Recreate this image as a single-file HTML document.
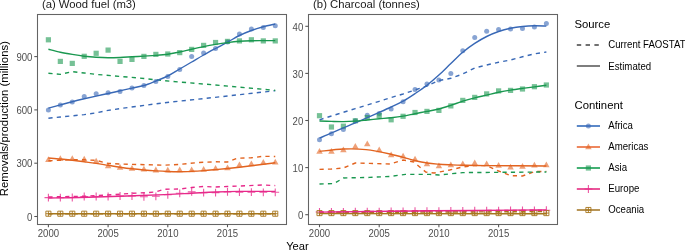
<!DOCTYPE html>
<html><head><meta charset="utf-8"><style>
html,body{margin:0;padding:0;background:#fff;}
svg{display:block;font-family:"Liberation Sans", sans-serif;will-change:transform;}
text{stroke-width:0px;}
</style></head><body>
<svg width="685" height="250" viewBox="0 0 685 250">
<rect width="685" height="250" fill="#fff"/>
<g><circle cx="48.40" cy="110.00" r="2.5" fill="#3868b6" fill-opacity="0.6"/>
<circle cx="60.34" cy="105.10" r="2.5" fill="#3868b6" fill-opacity="0.6"/>
<circle cx="72.28" cy="101.90" r="2.5" fill="#3868b6" fill-opacity="0.6"/>
<circle cx="84.22" cy="96.50" r="2.5" fill="#3868b6" fill-opacity="0.6"/>
<circle cx="96.16" cy="93.70" r="2.5" fill="#3868b6" fill-opacity="0.6"/>
<circle cx="108.10" cy="92.70" r="2.5" fill="#3868b6" fill-opacity="0.6"/>
<circle cx="120.04" cy="91.40" r="2.5" fill="#3868b6" fill-opacity="0.6"/>
<circle cx="131.98" cy="88.00" r="2.5" fill="#3868b6" fill-opacity="0.6"/>
<circle cx="143.92" cy="85.40" r="2.5" fill="#3868b6" fill-opacity="0.6"/>
<circle cx="155.86" cy="81.60" r="2.5" fill="#3868b6" fill-opacity="0.6"/>
<circle cx="167.80" cy="76.40" r="2.5" fill="#3868b6" fill-opacity="0.6"/>
<circle cx="179.74" cy="69.60" r="2.5" fill="#3868b6" fill-opacity="0.6"/>
<circle cx="191.68" cy="56.50" r="2.5" fill="#3868b6" fill-opacity="0.6"/>
<circle cx="203.62" cy="53.00" r="2.5" fill="#3868b6" fill-opacity="0.6"/>
<circle cx="215.56" cy="48.60" r="2.5" fill="#3868b6" fill-opacity="0.6"/>
<circle cx="227.50" cy="41.90" r="2.5" fill="#3868b6" fill-opacity="0.6"/>
<circle cx="239.44" cy="33.90" r="2.5" fill="#3868b6" fill-opacity="0.6"/>
<circle cx="251.38" cy="29.00" r="2.5" fill="#3868b6" fill-opacity="0.6"/>
<circle cx="263.32" cy="27.50" r="2.5" fill="#3868b6" fill-opacity="0.6"/>
<circle cx="275.26" cy="25.70" r="2.5" fill="#3868b6" fill-opacity="0.6"/>
<path d="M48.40,156.30L51.65,162.10L45.15,162.10Z" fill="#e2631f" fill-opacity="0.6"/>
<path d="M60.34,155.20L63.59,161.00L57.09,161.00Z" fill="#e2631f" fill-opacity="0.6"/>
<path d="M72.28,155.20L75.53,161.00L69.03,161.00Z" fill="#e2631f" fill-opacity="0.6"/>
<path d="M84.22,155.70L87.47,161.50L80.97,161.50Z" fill="#e2631f" fill-opacity="0.6"/>
<path d="M96.16,157.80L99.41,163.60L92.91,163.60Z" fill="#e2631f" fill-opacity="0.6"/>
<path d="M108.10,162.40L111.35,168.20L104.85,168.20Z" fill="#e2631f" fill-opacity="0.6"/>
<path d="M120.04,164.00L123.29,169.80L116.79,169.80Z" fill="#e2631f" fill-opacity="0.6"/>
<path d="M131.98,165.00L135.23,170.80L128.73,170.80Z" fill="#e2631f" fill-opacity="0.6"/>
<path d="M143.92,165.80L147.17,171.60L140.67,171.60Z" fill="#e2631f" fill-opacity="0.6"/>
<path d="M155.86,166.60L159.11,172.40L152.61,172.40Z" fill="#e2631f" fill-opacity="0.6"/>
<path d="M167.80,166.80L171.05,172.60L164.55,172.60Z" fill="#e2631f" fill-opacity="0.6"/>
<path d="M179.74,166.40L182.99,172.20L176.49,172.20Z" fill="#e2631f" fill-opacity="0.6"/>
<path d="M191.68,166.40L194.93,172.20L188.43,172.20Z" fill="#e2631f" fill-opacity="0.6"/>
<path d="M203.62,166.00L206.87,171.80L200.37,171.80Z" fill="#e2631f" fill-opacity="0.6"/>
<path d="M215.56,165.00L218.81,170.80L212.31,170.80Z" fill="#e2631f" fill-opacity="0.6"/>
<path d="M227.50,164.40L230.75,170.20L224.25,170.20Z" fill="#e2631f" fill-opacity="0.6"/>
<path d="M239.44,161.40L242.69,167.20L236.19,167.20Z" fill="#e2631f" fill-opacity="0.6"/>
<path d="M251.38,160.40L254.63,166.20L248.13,166.20Z" fill="#e2631f" fill-opacity="0.6"/>
<path d="M263.32,159.00L266.57,164.80L260.07,164.80Z" fill="#e2631f" fill-opacity="0.6"/>
<path d="M275.26,158.80L278.51,164.60L272.01,164.60Z" fill="#e2631f" fill-opacity="0.6"/>
<rect x="45.80" y="37.20" width="5.20" height="5.20" fill="#1a9850" fill-opacity="0.6"/>
<rect x="57.74" y="58.80" width="5.20" height="5.20" fill="#1a9850" fill-opacity="0.6"/>
<rect x="69.68" y="60.80" width="5.20" height="5.20" fill="#1a9850" fill-opacity="0.6"/>
<rect x="81.62" y="53.70" width="5.20" height="5.20" fill="#1a9850" fill-opacity="0.6"/>
<rect x="93.56" y="50.70" width="5.20" height="5.20" fill="#1a9850" fill-opacity="0.6"/>
<rect x="105.50" y="47.50" width="5.20" height="5.20" fill="#1a9850" fill-opacity="0.6"/>
<rect x="117.44" y="58.80" width="5.20" height="5.20" fill="#1a9850" fill-opacity="0.6"/>
<rect x="129.38" y="56.80" width="5.20" height="5.20" fill="#1a9850" fill-opacity="0.6"/>
<rect x="141.32" y="53.80" width="5.20" height="5.20" fill="#1a9850" fill-opacity="0.6"/>
<rect x="153.26" y="51.80" width="5.20" height="5.20" fill="#1a9850" fill-opacity="0.6"/>
<rect x="165.20" y="51.40" width="5.20" height="5.20" fill="#1a9850" fill-opacity="0.6"/>
<rect x="177.14" y="50.00" width="5.20" height="5.20" fill="#1a9850" fill-opacity="0.6"/>
<rect x="189.08" y="46.80" width="5.20" height="5.20" fill="#1a9850" fill-opacity="0.6"/>
<rect x="201.02" y="42.80" width="5.20" height="5.20" fill="#1a9850" fill-opacity="0.6"/>
<rect x="212.96" y="39.90" width="5.20" height="5.20" fill="#1a9850" fill-opacity="0.6"/>
<rect x="224.90" y="38.80" width="5.20" height="5.20" fill="#1a9850" fill-opacity="0.6"/>
<rect x="236.84" y="38.30" width="5.20" height="5.20" fill="#1a9850" fill-opacity="0.6"/>
<rect x="248.78" y="37.20" width="5.20" height="5.20" fill="#1a9850" fill-opacity="0.6"/>
<rect x="260.72" y="38.30" width="5.20" height="5.20" fill="#1a9850" fill-opacity="0.6"/>
<rect x="272.66" y="38.30" width="5.20" height="5.20" fill="#1a9850" fill-opacity="0.6"/>
<path d="M44.50,197.60H52.30M48.40,193.70V201.50" stroke="#e7298a" stroke-opacity="0.78" stroke-width="1.1" fill="none"/>
<path d="M56.44,197.60H64.24M60.34,193.70V201.50" stroke="#e7298a" stroke-opacity="0.78" stroke-width="1.1" fill="none"/>
<path d="M68.38,197.50H76.18M72.28,193.60V201.40" stroke="#e7298a" stroke-opacity="0.78" stroke-width="1.1" fill="none"/>
<path d="M80.32,196.50H88.12M84.22,192.60V200.40" stroke="#e7298a" stroke-opacity="0.78" stroke-width="1.1" fill="none"/>
<path d="M92.26,196.50H100.06M96.16,192.60V200.40" stroke="#e7298a" stroke-opacity="0.78" stroke-width="1.1" fill="none"/>
<path d="M104.20,196.50H112.00M108.10,192.60V200.40" stroke="#e7298a" stroke-opacity="0.78" stroke-width="1.1" fill="none"/>
<path d="M116.14,196.00H123.94M120.04,192.10V199.90" stroke="#e7298a" stroke-opacity="0.78" stroke-width="1.1" fill="none"/>
<path d="M128.08,196.00H135.88M131.98,192.10V199.90" stroke="#e7298a" stroke-opacity="0.78" stroke-width="1.1" fill="none"/>
<path d="M140.02,196.80H147.82M143.92,192.90V200.70" stroke="#e7298a" stroke-opacity="0.78" stroke-width="1.1" fill="none"/>
<path d="M151.96,196.30H159.76M155.86,192.40V200.20" stroke="#e7298a" stroke-opacity="0.78" stroke-width="1.1" fill="none"/>
<path d="M163.90,194.80H171.70M167.80,190.90V198.70" stroke="#e7298a" stroke-opacity="0.78" stroke-width="1.1" fill="none"/>
<path d="M175.84,193.30H183.64M179.74,189.40V197.20" stroke="#e7298a" stroke-opacity="0.78" stroke-width="1.1" fill="none"/>
<path d="M187.78,191.90H195.58M191.68,188.00V195.80" stroke="#e7298a" stroke-opacity="0.78" stroke-width="1.1" fill="none"/>
<path d="M199.72,192.60H207.52M203.62,188.70V196.50" stroke="#e7298a" stroke-opacity="0.78" stroke-width="1.1" fill="none"/>
<path d="M211.66,192.60H219.46M215.56,188.70V196.50" stroke="#e7298a" stroke-opacity="0.78" stroke-width="1.1" fill="none"/>
<path d="M223.60,191.90H231.40M227.50,188.00V195.80" stroke="#e7298a" stroke-opacity="0.78" stroke-width="1.1" fill="none"/>
<path d="M235.54,192.20H243.34M239.44,188.30V196.10" stroke="#e7298a" stroke-opacity="0.78" stroke-width="1.1" fill="none"/>
<path d="M247.48,192.20H255.28M251.38,188.30V196.10" stroke="#e7298a" stroke-opacity="0.78" stroke-width="1.1" fill="none"/>
<path d="M259.42,192.30H267.22M263.32,188.40V196.20" stroke="#e7298a" stroke-opacity="0.78" stroke-width="1.1" fill="none"/>
<path d="M271.36,192.30H279.16M275.26,188.40V196.20" stroke="#e7298a" stroke-opacity="0.78" stroke-width="1.1" fill="none"/>
<path d="M45.85,211.15h5.10v5.10h-5.10ZM45.85,213.70H50.95M48.40,211.15V216.25" stroke="#a6761d" stroke-opacity="0.8999999999999999" stroke-width="1.0" fill="none"/>
<path d="M57.79,211.15h5.10v5.10h-5.10ZM57.79,213.70H62.89M60.34,211.15V216.25" stroke="#a6761d" stroke-opacity="0.8999999999999999" stroke-width="1.0" fill="none"/>
<path d="M69.73,211.15h5.10v5.10h-5.10ZM69.73,213.70H74.83M72.28,211.15V216.25" stroke="#a6761d" stroke-opacity="0.8999999999999999" stroke-width="1.0" fill="none"/>
<path d="M81.67,211.15h5.10v5.10h-5.10ZM81.67,213.70H86.77M84.22,211.15V216.25" stroke="#a6761d" stroke-opacity="0.8999999999999999" stroke-width="1.0" fill="none"/>
<path d="M93.61,211.15h5.10v5.10h-5.10ZM93.61,213.70H98.71M96.16,211.15V216.25" stroke="#a6761d" stroke-opacity="0.8999999999999999" stroke-width="1.0" fill="none"/>
<path d="M105.55,211.15h5.10v5.10h-5.10ZM105.55,213.70H110.65M108.10,211.15V216.25" stroke="#a6761d" stroke-opacity="0.8999999999999999" stroke-width="1.0" fill="none"/>
<path d="M117.49,211.15h5.10v5.10h-5.10ZM117.49,213.70H122.59M120.04,211.15V216.25" stroke="#a6761d" stroke-opacity="0.8999999999999999" stroke-width="1.0" fill="none"/>
<path d="M129.43,211.15h5.10v5.10h-5.10ZM129.43,213.70H134.53M131.98,211.15V216.25" stroke="#a6761d" stroke-opacity="0.8999999999999999" stroke-width="1.0" fill="none"/>
<path d="M141.37,211.15h5.10v5.10h-5.10ZM141.37,213.70H146.47M143.92,211.15V216.25" stroke="#a6761d" stroke-opacity="0.8999999999999999" stroke-width="1.0" fill="none"/>
<path d="M153.31,211.15h5.10v5.10h-5.10ZM153.31,213.70H158.41M155.86,211.15V216.25" stroke="#a6761d" stroke-opacity="0.8999999999999999" stroke-width="1.0" fill="none"/>
<path d="M165.25,211.15h5.10v5.10h-5.10ZM165.25,213.70H170.35M167.80,211.15V216.25" stroke="#a6761d" stroke-opacity="0.8999999999999999" stroke-width="1.0" fill="none"/>
<path d="M177.19,211.15h5.10v5.10h-5.10ZM177.19,213.70H182.29M179.74,211.15V216.25" stroke="#a6761d" stroke-opacity="0.8999999999999999" stroke-width="1.0" fill="none"/>
<path d="M189.13,211.15h5.10v5.10h-5.10ZM189.13,213.70H194.23M191.68,211.15V216.25" stroke="#a6761d" stroke-opacity="0.8999999999999999" stroke-width="1.0" fill="none"/>
<path d="M201.07,211.15h5.10v5.10h-5.10ZM201.07,213.70H206.17M203.62,211.15V216.25" stroke="#a6761d" stroke-opacity="0.8999999999999999" stroke-width="1.0" fill="none"/>
<path d="M213.01,211.15h5.10v5.10h-5.10ZM213.01,213.70H218.11M215.56,211.15V216.25" stroke="#a6761d" stroke-opacity="0.8999999999999999" stroke-width="1.0" fill="none"/>
<path d="M224.95,211.15h5.10v5.10h-5.10ZM224.95,213.70H230.05M227.50,211.15V216.25" stroke="#a6761d" stroke-opacity="0.8999999999999999" stroke-width="1.0" fill="none"/>
<path d="M236.89,211.15h5.10v5.10h-5.10ZM236.89,213.70H241.99M239.44,211.15V216.25" stroke="#a6761d" stroke-opacity="0.8999999999999999" stroke-width="1.0" fill="none"/>
<path d="M248.83,211.15h5.10v5.10h-5.10ZM248.83,213.70H253.93M251.38,211.15V216.25" stroke="#a6761d" stroke-opacity="0.8999999999999999" stroke-width="1.0" fill="none"/>
<path d="M260.77,211.15h5.10v5.10h-5.10ZM260.77,213.70H265.87M263.32,211.15V216.25" stroke="#a6761d" stroke-opacity="0.8999999999999999" stroke-width="1.0" fill="none"/>
<path d="M272.71,211.15h5.10v5.10h-5.10ZM272.71,213.70H277.81M275.26,211.15V216.25" stroke="#a6761d" stroke-opacity="0.8999999999999999" stroke-width="1.0" fill="none"/>
<polyline points="48.40,118.20 60.34,117.00 72.28,115.80 84.22,114.60 96.16,112.80 108.10,110.40 120.04,108.60 163.02,102.90 220.34,96.80 275.26,90.70" fill="none" stroke="#3868b6" stroke-width="1.4" stroke-dasharray="4.2 4.2"/>
<polyline points="48.40,160.80 60.34,160.20 72.28,159.80 84.22,159.80 96.16,160.40 108.10,163.40 120.04,164.00 163.02,165.20 179.74,164.40 198.84,162.50 215.56,161.80 227.50,162.00 237.05,158.20 251.38,157.80 263.32,156.30 275.26,156.50" fill="none" stroke="#e2631f" stroke-width="1.4" stroke-dasharray="4.2 4.2"/>
<polyline points="48.40,73.20 60.34,74.40 72.28,71.60 84.22,73.00 96.16,74.40 120.04,76.40 143.92,78.50 163.02,80.60 222.72,85.60 275.26,90.40" fill="none" stroke="#1a9850" stroke-width="1.4" stroke-dasharray="4.2 4.2"/>
<polyline points="48.40,197.00 84.22,196.20 108.10,195.00 120.04,194.20 131.98,193.30 147.50,192.60 155.86,191.90 164.22,189.20 179.74,189.00 191.68,187.50 203.62,186.50 215.56,187.00 227.50,186.50 239.44,186.00 263.32,185.00 275.26,185.60" fill="none" stroke="#e7298a" stroke-width="1.4" stroke-dasharray="4.2 4.2"/>
<polyline points="48.40,213.70 275.26,213.70" fill="none" stroke="#a6761d" stroke-width="1.4" stroke-dasharray="4.2 4.2"/>
<path d="M48.40,108.20 C50.39,107.65 56.36,105.98 60.34,104.90 C64.32,103.82 68.30,102.72 72.28,101.70 C76.26,100.68 80.24,99.73 84.22,98.80 C88.20,97.87 92.18,96.98 96.16,96.10 C100.14,95.22 104.12,94.38 108.10,93.50 C112.08,92.62 116.06,91.70 120.04,90.80 C124.02,89.90 128.00,88.98 131.98,88.10 C135.96,87.22 139.94,86.68 143.92,85.50 C147.90,84.32 151.88,82.58 155.86,81.00 C159.84,79.42 163.82,78.00 167.80,76.00 C171.78,74.00 175.76,71.33 179.74,69.00 C183.72,66.67 187.70,64.33 191.68,62.00 C195.66,59.67 199.64,57.25 203.62,55.00 C207.60,52.75 211.58,50.63 215.56,48.50 C219.54,46.37 223.52,44.37 227.50,42.20 C231.48,40.03 235.46,37.45 239.44,35.50 C243.42,33.55 247.40,31.95 251.38,30.50 C255.36,29.05 259.34,27.88 263.32,26.80 C267.30,25.72 273.27,24.47 275.26,24.00" fill="none" stroke="#3868b6" stroke-width="1.4"/>
<path d="M48.40,158.00 C50.39,158.17 56.36,158.62 60.34,159.00 C64.32,159.38 68.30,159.83 72.28,160.30 C76.26,160.77 80.24,161.28 84.22,161.80 C88.20,162.32 92.18,162.82 96.16,163.40 C100.14,163.98 104.12,164.67 108.10,165.30 C112.08,165.93 116.06,166.62 120.04,167.20 C124.02,167.78 128.00,168.33 131.98,168.80 C135.96,169.27 139.94,169.65 143.92,170.00 C147.90,170.35 151.88,170.65 155.86,170.90 C159.84,171.15 163.82,171.37 167.80,171.50 C171.78,171.63 175.76,171.73 179.74,171.70 C183.72,171.67 187.70,171.48 191.68,171.30 C195.66,171.12 199.64,170.88 203.62,170.60 C207.60,170.32 211.58,169.95 215.56,169.60 C219.54,169.25 223.52,168.90 227.50,168.50 C231.48,168.10 235.46,167.65 239.44,167.20 C243.42,166.75 247.40,166.28 251.38,165.80 C255.36,165.32 259.34,164.80 263.32,164.30 C267.30,163.80 273.27,163.05 275.26,162.80" fill="none" stroke="#e2631f" stroke-width="1.4"/>
<path d="M48.40,49.30 C50.39,49.78 56.36,51.35 60.34,52.20 C64.32,53.05 68.30,53.73 72.28,54.40 C76.26,55.07 80.24,55.72 84.22,56.20 C88.20,56.68 92.18,57.03 96.16,57.30 C100.14,57.57 104.12,57.77 108.10,57.80 C112.08,57.83 116.06,57.67 120.04,57.50 C124.02,57.33 128.00,57.03 131.98,56.80 C135.96,56.57 139.94,56.33 143.92,56.10 C147.90,55.87 151.88,55.72 155.86,55.40 C159.84,55.08 163.82,54.77 167.80,54.20 C171.78,53.63 175.76,52.83 179.74,52.00 C183.72,51.17 187.70,50.10 191.68,49.20 C195.66,48.30 199.64,47.40 203.62,46.60 C207.60,45.80 211.58,45.07 215.56,44.40 C219.54,43.73 223.52,43.12 227.50,42.60 C231.48,42.08 235.46,41.62 239.44,41.30 C243.42,40.98 247.40,40.82 251.38,40.70 C255.36,40.58 259.34,40.62 263.32,40.60 C267.30,40.58 273.27,40.60 275.26,40.60" fill="none" stroke="#1a9850" stroke-width="1.4"/>
<path d="M48.40,198.00 C56.36,197.83 76.86,197.57 96.16,197.00 C115.46,196.43 148.30,195.23 164.22,194.60 C180.14,193.97 183.12,193.63 191.68,193.20 C200.24,192.77 207.60,192.30 215.56,192.00 C223.52,191.70 229.49,191.50 239.44,191.40 C249.39,191.30 269.29,191.40 275.26,191.40" fill="none" stroke="#e7298a" stroke-width="1.4"/>
<path d="M48.40,213.70 L275.26,213.70" fill="none" stroke="#a6761d" stroke-width="1.4"/></g>
<g><circle cx="319.50" cy="139.70" r="2.5" fill="#3868b6" fill-opacity="0.6"/>
<circle cx="331.44" cy="133.70" r="2.5" fill="#3868b6" fill-opacity="0.6"/>
<circle cx="343.38" cy="129.40" r="2.5" fill="#3868b6" fill-opacity="0.6"/>
<circle cx="355.32" cy="120.80" r="2.5" fill="#3868b6" fill-opacity="0.6"/>
<circle cx="367.26" cy="115.30" r="2.5" fill="#3868b6" fill-opacity="0.6"/>
<circle cx="379.20" cy="113.50" r="2.5" fill="#3868b6" fill-opacity="0.6"/>
<circle cx="391.14" cy="109.00" r="2.5" fill="#3868b6" fill-opacity="0.6"/>
<circle cx="403.08" cy="101.70" r="2.5" fill="#3868b6" fill-opacity="0.6"/>
<circle cx="415.02" cy="89.60" r="2.5" fill="#3868b6" fill-opacity="0.6"/>
<circle cx="426.96" cy="84.00" r="2.5" fill="#3868b6" fill-opacity="0.6"/>
<circle cx="438.90" cy="80.00" r="2.5" fill="#3868b6" fill-opacity="0.6"/>
<circle cx="450.84" cy="73.60" r="2.5" fill="#3868b6" fill-opacity="0.6"/>
<circle cx="462.78" cy="50.80" r="2.5" fill="#3868b6" fill-opacity="0.6"/>
<circle cx="474.72" cy="37.40" r="2.5" fill="#3868b6" fill-opacity="0.6"/>
<circle cx="486.66" cy="31.20" r="2.5" fill="#3868b6" fill-opacity="0.6"/>
<circle cx="498.60" cy="29.50" r="2.5" fill="#3868b6" fill-opacity="0.6"/>
<circle cx="510.54" cy="29.00" r="2.5" fill="#3868b6" fill-opacity="0.6"/>
<circle cx="522.48" cy="28.40" r="2.5" fill="#3868b6" fill-opacity="0.6"/>
<circle cx="534.42" cy="27.00" r="2.5" fill="#3868b6" fill-opacity="0.6"/>
<circle cx="546.36" cy="23.40" r="2.5" fill="#3868b6" fill-opacity="0.6"/>
<path d="M319.50,148.00L322.75,153.80L316.25,153.80Z" fill="#e2631f" fill-opacity="0.6"/>
<path d="M331.44,148.00L334.69,153.80L328.19,153.80Z" fill="#e2631f" fill-opacity="0.6"/>
<path d="M343.38,146.40L346.63,152.20L340.13,152.20Z" fill="#e2631f" fill-opacity="0.6"/>
<path d="M355.32,143.00L358.57,148.80L352.07,148.80Z" fill="#e2631f" fill-opacity="0.6"/>
<path d="M367.26,140.40L370.51,146.20L364.01,146.20Z" fill="#e2631f" fill-opacity="0.6"/>
<path d="M379.20,146.40L382.45,152.20L375.95,152.20Z" fill="#e2631f" fill-opacity="0.6"/>
<path d="M391.14,151.40L394.39,157.20L387.89,157.20Z" fill="#e2631f" fill-opacity="0.6"/>
<path d="M403.08,152.80L406.33,158.60L399.83,158.60Z" fill="#e2631f" fill-opacity="0.6"/>
<path d="M415.02,155.80L418.27,161.60L411.77,161.60Z" fill="#e2631f" fill-opacity="0.6"/>
<path d="M426.96,160.40L430.21,166.20L423.71,166.20Z" fill="#e2631f" fill-opacity="0.6"/>
<path d="M438.90,162.40L442.15,168.20L435.65,168.20Z" fill="#e2631f" fill-opacity="0.6"/>
<path d="M450.84,161.40L454.09,167.20L447.59,167.20Z" fill="#e2631f" fill-opacity="0.6"/>
<path d="M462.78,160.40L466.03,166.20L459.53,166.20Z" fill="#e2631f" fill-opacity="0.6"/>
<path d="M474.72,159.40L477.97,165.20L471.47,165.20Z" fill="#e2631f" fill-opacity="0.6"/>
<path d="M486.66,160.40L489.91,166.20L483.41,166.20Z" fill="#e2631f" fill-opacity="0.6"/>
<path d="M498.60,162.00L501.85,167.80L495.35,167.80Z" fill="#e2631f" fill-opacity="0.6"/>
<path d="M510.54,163.80L513.79,169.60L507.29,169.60Z" fill="#e2631f" fill-opacity="0.6"/>
<path d="M522.48,163.00L525.73,168.80L519.23,168.80Z" fill="#e2631f" fill-opacity="0.6"/>
<path d="M534.42,161.80L537.67,167.60L531.17,167.60Z" fill="#e2631f" fill-opacity="0.6"/>
<path d="M546.36,161.40L549.61,167.20L543.11,167.20Z" fill="#e2631f" fill-opacity="0.6"/>
<rect x="316.90" y="113.10" width="5.20" height="5.20" fill="#1a9850" fill-opacity="0.6"/>
<rect x="328.84" y="124.40" width="5.20" height="5.20" fill="#1a9850" fill-opacity="0.6"/>
<rect x="340.78" y="123.60" width="5.20" height="5.20" fill="#1a9850" fill-opacity="0.6"/>
<rect x="352.72" y="118.20" width="5.20" height="5.20" fill="#1a9850" fill-opacity="0.6"/>
<rect x="364.66" y="115.00" width="5.20" height="5.20" fill="#1a9850" fill-opacity="0.6"/>
<rect x="376.60" y="112.90" width="5.20" height="5.20" fill="#1a9850" fill-opacity="0.6"/>
<rect x="388.54" y="117.20" width="5.20" height="5.20" fill="#1a9850" fill-opacity="0.6"/>
<rect x="400.48" y="113.70" width="5.20" height="5.20" fill="#1a9850" fill-opacity="0.6"/>
<rect x="412.42" y="109.90" width="5.20" height="5.20" fill="#1a9850" fill-opacity="0.6"/>
<rect x="424.36" y="108.80" width="5.20" height="5.20" fill="#1a9850" fill-opacity="0.6"/>
<rect x="436.30" y="107.80" width="5.20" height="5.20" fill="#1a9850" fill-opacity="0.6"/>
<rect x="448.24" y="103.30" width="5.20" height="5.20" fill="#1a9850" fill-opacity="0.6"/>
<rect x="460.18" y="97.80" width="5.20" height="5.20" fill="#1a9850" fill-opacity="0.6"/>
<rect x="472.12" y="94.80" width="5.20" height="5.20" fill="#1a9850" fill-opacity="0.6"/>
<rect x="484.06" y="91.30" width="5.20" height="5.20" fill="#1a9850" fill-opacity="0.6"/>
<rect x="496.00" y="88.30" width="5.20" height="5.20" fill="#1a9850" fill-opacity="0.6"/>
<rect x="507.94" y="87.80" width="5.20" height="5.20" fill="#1a9850" fill-opacity="0.6"/>
<rect x="519.88" y="86.40" width="5.20" height="5.20" fill="#1a9850" fill-opacity="0.6"/>
<rect x="531.82" y="84.10" width="5.20" height="5.20" fill="#1a9850" fill-opacity="0.6"/>
<rect x="543.76" y="82.40" width="5.20" height="5.20" fill="#1a9850" fill-opacity="0.6"/>
<path d="M315.60,212.00H323.40M319.50,208.10V215.90" stroke="#e7298a" stroke-opacity="0.78" stroke-width="1.1" fill="none"/>
<path d="M327.54,211.91H335.34M331.44,208.01V215.81" stroke="#e7298a" stroke-opacity="0.78" stroke-width="1.1" fill="none"/>
<path d="M339.48,211.81H347.28M343.38,207.91V215.71" stroke="#e7298a" stroke-opacity="0.78" stroke-width="1.1" fill="none"/>
<path d="M351.42,211.72H359.22M355.32,207.82V215.62" stroke="#e7298a" stroke-opacity="0.78" stroke-width="1.1" fill="none"/>
<path d="M363.36,211.62H371.16M367.26,207.72V215.52" stroke="#e7298a" stroke-opacity="0.78" stroke-width="1.1" fill="none"/>
<path d="M375.30,211.53H383.10M379.20,207.63V215.43" stroke="#e7298a" stroke-opacity="0.78" stroke-width="1.1" fill="none"/>
<path d="M387.24,211.43H395.04M391.14,207.53V215.33" stroke="#e7298a" stroke-opacity="0.78" stroke-width="1.1" fill="none"/>
<path d="M399.18,211.34H406.98M403.08,207.44V215.24" stroke="#e7298a" stroke-opacity="0.78" stroke-width="1.1" fill="none"/>
<path d="M411.12,211.24H418.92M415.02,207.34V215.14" stroke="#e7298a" stroke-opacity="0.78" stroke-width="1.1" fill="none"/>
<path d="M423.06,211.15H430.86M426.96,207.25V215.05" stroke="#e7298a" stroke-opacity="0.78" stroke-width="1.1" fill="none"/>
<path d="M435.00,211.05H442.80M438.90,207.15V214.95" stroke="#e7298a" stroke-opacity="0.78" stroke-width="1.1" fill="none"/>
<path d="M446.94,210.96H454.74M450.84,207.06V214.86" stroke="#e7298a" stroke-opacity="0.78" stroke-width="1.1" fill="none"/>
<path d="M458.88,210.86H466.68M462.78,206.96V214.76" stroke="#e7298a" stroke-opacity="0.78" stroke-width="1.1" fill="none"/>
<path d="M470.82,210.77H478.62M474.72,206.87V214.67" stroke="#e7298a" stroke-opacity="0.78" stroke-width="1.1" fill="none"/>
<path d="M482.76,210.67H490.56M486.66,206.77V214.57" stroke="#e7298a" stroke-opacity="0.78" stroke-width="1.1" fill="none"/>
<path d="M494.70,210.58H502.50M498.60,206.68V214.48" stroke="#e7298a" stroke-opacity="0.78" stroke-width="1.1" fill="none"/>
<path d="M506.64,210.48H514.44M510.54,206.58V214.38" stroke="#e7298a" stroke-opacity="0.78" stroke-width="1.1" fill="none"/>
<path d="M518.58,210.39H526.38M522.48,206.49V214.29" stroke="#e7298a" stroke-opacity="0.78" stroke-width="1.1" fill="none"/>
<path d="M530.52,210.29H538.32M534.42,206.39V214.19" stroke="#e7298a" stroke-opacity="0.78" stroke-width="1.1" fill="none"/>
<path d="M542.46,210.20H550.26M546.36,206.30V214.10" stroke="#e7298a" stroke-opacity="0.78" stroke-width="1.1" fill="none"/>
<path d="M316.95,210.55h5.10v5.10h-5.10ZM316.95,213.10H322.05M319.50,210.55V215.65" stroke="#a6761d" stroke-opacity="0.8999999999999999" stroke-width="1.0" fill="none"/>
<path d="M328.89,210.55h5.10v5.10h-5.10ZM328.89,213.10H333.99M331.44,210.55V215.65" stroke="#a6761d" stroke-opacity="0.8999999999999999" stroke-width="1.0" fill="none"/>
<path d="M340.83,210.55h5.10v5.10h-5.10ZM340.83,213.10H345.93M343.38,210.55V215.65" stroke="#a6761d" stroke-opacity="0.8999999999999999" stroke-width="1.0" fill="none"/>
<path d="M352.77,210.55h5.10v5.10h-5.10ZM352.77,213.10H357.87M355.32,210.55V215.65" stroke="#a6761d" stroke-opacity="0.8999999999999999" stroke-width="1.0" fill="none"/>
<path d="M364.71,210.55h5.10v5.10h-5.10ZM364.71,213.10H369.81M367.26,210.55V215.65" stroke="#a6761d" stroke-opacity="0.8999999999999999" stroke-width="1.0" fill="none"/>
<path d="M376.65,210.55h5.10v5.10h-5.10ZM376.65,213.10H381.75M379.20,210.55V215.65" stroke="#a6761d" stroke-opacity="0.8999999999999999" stroke-width="1.0" fill="none"/>
<path d="M388.59,210.55h5.10v5.10h-5.10ZM388.59,213.10H393.69M391.14,210.55V215.65" stroke="#a6761d" stroke-opacity="0.8999999999999999" stroke-width="1.0" fill="none"/>
<path d="M400.53,210.55h5.10v5.10h-5.10ZM400.53,213.10H405.63M403.08,210.55V215.65" stroke="#a6761d" stroke-opacity="0.8999999999999999" stroke-width="1.0" fill="none"/>
<path d="M412.47,210.55h5.10v5.10h-5.10ZM412.47,213.10H417.57M415.02,210.55V215.65" stroke="#a6761d" stroke-opacity="0.8999999999999999" stroke-width="1.0" fill="none"/>
<path d="M424.41,210.55h5.10v5.10h-5.10ZM424.41,213.10H429.51M426.96,210.55V215.65" stroke="#a6761d" stroke-opacity="0.8999999999999999" stroke-width="1.0" fill="none"/>
<path d="M436.35,210.55h5.10v5.10h-5.10ZM436.35,213.10H441.45M438.90,210.55V215.65" stroke="#a6761d" stroke-opacity="0.8999999999999999" stroke-width="1.0" fill="none"/>
<path d="M448.29,210.55h5.10v5.10h-5.10ZM448.29,213.10H453.39M450.84,210.55V215.65" stroke="#a6761d" stroke-opacity="0.8999999999999999" stroke-width="1.0" fill="none"/>
<path d="M460.23,210.55h5.10v5.10h-5.10ZM460.23,213.10H465.33M462.78,210.55V215.65" stroke="#a6761d" stroke-opacity="0.8999999999999999" stroke-width="1.0" fill="none"/>
<path d="M472.17,210.55h5.10v5.10h-5.10ZM472.17,213.10H477.27M474.72,210.55V215.65" stroke="#a6761d" stroke-opacity="0.8999999999999999" stroke-width="1.0" fill="none"/>
<path d="M484.11,210.55h5.10v5.10h-5.10ZM484.11,213.10H489.21M486.66,210.55V215.65" stroke="#a6761d" stroke-opacity="0.8999999999999999" stroke-width="1.0" fill="none"/>
<path d="M496.05,210.55h5.10v5.10h-5.10ZM496.05,213.10H501.15M498.60,210.55V215.65" stroke="#a6761d" stroke-opacity="0.8999999999999999" stroke-width="1.0" fill="none"/>
<path d="M507.99,210.55h5.10v5.10h-5.10ZM507.99,213.10H513.09M510.54,210.55V215.65" stroke="#a6761d" stroke-opacity="0.8999999999999999" stroke-width="1.0" fill="none"/>
<path d="M519.93,210.55h5.10v5.10h-5.10ZM519.93,213.10H525.03M522.48,210.55V215.65" stroke="#a6761d" stroke-opacity="0.8999999999999999" stroke-width="1.0" fill="none"/>
<path d="M531.87,210.55h5.10v5.10h-5.10ZM531.87,213.10H536.97M534.42,210.55V215.65" stroke="#a6761d" stroke-opacity="0.8999999999999999" stroke-width="1.0" fill="none"/>
<path d="M543.81,210.55h5.10v5.10h-5.10ZM543.81,213.10H548.91M546.36,210.55V215.65" stroke="#a6761d" stroke-opacity="0.8999999999999999" stroke-width="1.0" fill="none"/>
<polyline points="319.50,119.80 331.44,116.00 343.38,112.30 355.32,108.60 367.26,105.00 379.20,101.30 391.14,97.50 403.08,94.00 415.02,90.00 426.96,86.00 438.90,80.50 450.84,78.30 462.78,74.00 474.72,68.00 486.66,65.00 498.60,62.30 510.54,60.00 522.48,56.80 534.42,53.80 546.36,52.00" fill="none" stroke="#3868b6" stroke-width="1.4" stroke-dasharray="4.2 4.2"/>
<polyline points="319.50,169.40 331.44,169.00 343.38,168.00 355.32,163.00 369.65,163.40 389.95,164.00 403.08,160.00 413.83,162.00 425.77,172.00 434.12,173.00 449.65,170.00 462.78,167.00 473.53,165.60 486.66,165.60 498.60,171.00 510.54,175.60 522.48,176.00 534.42,171.60 546.36,171.40" fill="none" stroke="#e2631f" stroke-width="1.4" stroke-dasharray="4.2 4.2"/>
<polyline points="319.50,184.00 333.83,183.60 343.38,178.00 369.65,177.40 389.95,176.40 405.47,174.40 429.35,174.40 438.90,175.00 462.78,172.60 546.36,172.00" fill="none" stroke="#1a9850" stroke-width="1.4" stroke-dasharray="4.2 4.2"/>
<polyline points="319.50,212.00 432.93,210.90 546.36,210.20" fill="none" stroke="#e7298a" stroke-width="1.4" stroke-dasharray="4.2 4.2"/>
<polyline points="319.50,212.60 546.36,211.60" fill="none" stroke="#a6761d" stroke-width="1.4" stroke-dasharray="4.2 4.2"/>
<path d="M319.50,138.20 C321.49,137.32 327.46,134.62 331.44,132.90 C335.42,131.18 339.40,129.57 343.38,127.90 C347.36,126.23 351.34,124.62 355.32,122.90 C359.30,121.18 363.28,119.35 367.26,117.60 C371.24,115.85 375.22,114.17 379.20,112.40 C383.18,110.63 387.16,108.87 391.14,107.00 C395.12,105.13 399.10,103.43 403.08,101.20 C407.06,98.97 411.04,96.27 415.02,93.60 C419.00,90.93 422.98,88.30 426.96,85.20 C430.94,82.10 434.92,78.62 438.90,75.00 C442.88,71.38 446.86,67.30 450.84,63.50 C454.82,59.70 458.80,55.55 462.78,52.20 C466.76,48.85 470.74,46.02 474.72,43.40 C478.70,40.78 482.68,38.48 486.66,36.50 C490.64,34.52 494.62,32.87 498.60,31.50 C502.58,30.13 506.56,29.13 510.54,28.30 C514.52,27.47 518.50,26.92 522.48,26.50 C526.46,26.08 530.44,25.87 534.42,25.80 C538.40,25.73 544.37,26.05 546.36,26.10" fill="none" stroke="#3868b6" stroke-width="1.4"/>
<path d="M319.50,151.40 C323.48,151.00 335.62,149.30 343.38,149.00 C351.14,148.70 358.31,148.77 366.07,149.60 C373.83,150.43 381.99,152.23 389.95,154.00 C397.91,155.77 407.66,158.70 413.83,160.20 C420.00,161.70 422.78,162.33 426.96,163.00 C431.14,163.67 434.92,163.90 438.90,164.20 C442.88,164.50 446.86,164.63 450.84,164.80 C454.82,164.97 456.81,165.07 462.78,165.20 C468.75,165.33 472.73,165.47 486.66,165.60 C500.59,165.73 536.41,165.93 546.36,166.00" fill="none" stroke="#e2631f" stroke-width="1.4"/>
<path d="M319.50,121.00 C321.49,121.07 327.46,121.30 331.44,121.40 C335.42,121.50 339.40,121.65 343.38,121.60 C347.36,121.55 351.34,121.37 355.32,121.10 C359.30,120.83 363.28,120.38 367.26,120.00 C371.24,119.62 375.22,119.18 379.20,118.80 C383.18,118.42 387.16,118.15 391.14,117.70 C395.12,117.25 399.10,116.77 403.08,116.10 C407.06,115.43 411.04,114.48 415.02,113.70 C419.00,112.92 422.98,112.18 426.96,111.40 C430.94,110.62 434.92,110.02 438.90,109.00 C442.88,107.98 446.86,106.60 450.84,105.30 C454.82,104.00 458.80,102.43 462.78,101.20 C466.76,99.97 470.74,98.92 474.72,97.90 C478.70,96.88 482.68,96.03 486.66,95.10 C490.64,94.17 494.62,93.13 498.60,92.30 C502.58,91.47 506.56,90.75 510.54,90.10 C514.52,89.45 518.50,88.93 522.48,88.40 C526.46,87.87 530.44,87.43 534.42,86.90 C538.40,86.37 544.37,85.48 546.36,85.20" fill="none" stroke="#1a9850" stroke-width="1.4"/>
<path d="M319.50,212.10 C338.40,211.88 395.12,211.17 432.93,210.80 C470.74,210.43 527.46,210.05 546.36,209.90" fill="none" stroke="#e7298a" stroke-width="1.4"/>
<path d="M319.50,213.60 L546.36,213.80" fill="none" stroke="#a6761d" stroke-width="1.4"/></g>
<rect x="37.5" y="14.5" width="249" height="210" fill="none" stroke="#646464" stroke-width="1.07"/>
<rect x="308.5" y="14.5" width="249" height="210" fill="none" stroke="#646464" stroke-width="1.07"/>
<line x1="34.3" x2="37.5" y1="216.5" y2="216.5" stroke="#555555" stroke-width="1.07"/>
<text transform="translate(32.4,220.70) scale(1,1.12)" text-anchor="end" font-size="9.6" fill="#4d4d4d" stroke="#4d4d4d">0</text>
<line x1="34.3" x2="37.5" y1="163.2" y2="163.2" stroke="#555555" stroke-width="1.07"/>
<text transform="translate(32.4,167.40) scale(1,1.12)" text-anchor="end" font-size="9.6" fill="#4d4d4d" stroke="#4d4d4d">300</text>
<line x1="34.3" x2="37.5" y1="109.9" y2="109.9" stroke="#555555" stroke-width="1.07"/>
<text transform="translate(32.4,114.10) scale(1,1.12)" text-anchor="end" font-size="9.6" fill="#4d4d4d" stroke="#4d4d4d">600</text>
<line x1="34.3" x2="37.5" y1="56.6" y2="56.6" stroke="#555555" stroke-width="1.07"/>
<text transform="translate(32.4,60.80) scale(1,1.12)" text-anchor="end" font-size="9.6" fill="#4d4d4d" stroke="#4d4d4d">900</text>
<line x1="305.3" x2="308.5" y1="214.7" y2="214.7" stroke="#555555" stroke-width="1.07"/>
<text transform="translate(303.3,218.90) scale(1,1.12)" text-anchor="end" font-size="9.6" fill="#4d4d4d" stroke="#4d4d4d">0</text>
<line x1="305.3" x2="308.5" y1="167.6" y2="167.6" stroke="#555555" stroke-width="1.07"/>
<text transform="translate(303.3,171.80) scale(1,1.12)" text-anchor="end" font-size="9.6" fill="#4d4d4d" stroke="#4d4d4d">10</text>
<line x1="305.3" x2="308.5" y1="120.5" y2="120.5" stroke="#555555" stroke-width="1.07"/>
<text transform="translate(303.3,124.70) scale(1,1.12)" text-anchor="end" font-size="9.6" fill="#4d4d4d" stroke="#4d4d4d">20</text>
<line x1="305.3" x2="308.5" y1="73.4" y2="73.4" stroke="#555555" stroke-width="1.07"/>
<text transform="translate(303.3,77.60) scale(1,1.12)" text-anchor="end" font-size="9.6" fill="#4d4d4d" stroke="#4d4d4d">30</text>
<line x1="305.3" x2="308.5" y1="26.3" y2="26.3" stroke="#555555" stroke-width="1.07"/>
<text transform="translate(303.3,30.50) scale(1,1.12)" text-anchor="end" font-size="9.6" fill="#4d4d4d" stroke="#4d4d4d">40</text>
<line x1="48.40" x2="48.40" y1="224.5" y2="227.2" stroke="#555555" stroke-width="1.07"/>
<text transform="translate(48.40,236.6) scale(1,1.12)" text-anchor="middle" font-size="9.6" fill="#4d4d4d" stroke="#4d4d4d">2000</text>
<line x1="108.10" x2="108.10" y1="224.5" y2="227.2" stroke="#555555" stroke-width="1.07"/>
<text transform="translate(108.10,236.6) scale(1,1.12)" text-anchor="middle" font-size="9.6" fill="#4d4d4d" stroke="#4d4d4d">2005</text>
<line x1="167.80" x2="167.80" y1="224.5" y2="227.2" stroke="#555555" stroke-width="1.07"/>
<text transform="translate(167.80,236.6) scale(1,1.12)" text-anchor="middle" font-size="9.6" fill="#4d4d4d" stroke="#4d4d4d">2010</text>
<line x1="227.50" x2="227.50" y1="224.5" y2="227.2" stroke="#555555" stroke-width="1.07"/>
<text transform="translate(227.50,236.6) scale(1,1.12)" text-anchor="middle" font-size="9.6" fill="#4d4d4d" stroke="#4d4d4d">2015</text>
<line x1="319.50" x2="319.50" y1="224.5" y2="227.2" stroke="#555555" stroke-width="1.07"/>
<text transform="translate(319.50,236.6) scale(1,1.12)" text-anchor="middle" font-size="9.6" fill="#4d4d4d" stroke="#4d4d4d">2000</text>
<line x1="379.20" x2="379.20" y1="224.5" y2="227.2" stroke="#555555" stroke-width="1.07"/>
<text transform="translate(379.20,236.6) scale(1,1.12)" text-anchor="middle" font-size="9.6" fill="#4d4d4d" stroke="#4d4d4d">2005</text>
<line x1="438.90" x2="438.90" y1="224.5" y2="227.2" stroke="#555555" stroke-width="1.07"/>
<text transform="translate(438.90,236.6) scale(1,1.12)" text-anchor="middle" font-size="9.6" fill="#4d4d4d" stroke="#4d4d4d">2010</text>
<line x1="498.60" x2="498.60" y1="224.5" y2="227.2" stroke="#555555" stroke-width="1.07"/>
<text transform="translate(498.60,236.6) scale(1,1.12)" text-anchor="middle" font-size="9.6" fill="#4d4d4d" stroke="#4d4d4d">2015</text>
<text x="41.9" y="8.4" font-size="11.3" fill="#1a1a1a" stroke="#1a1a1a">(a) Wood fuel (m3)</text>
<text x="313.1" y="8.4" font-size="11.3" fill="#1a1a1a" stroke="#1a1a1a">(b) Charcoal (tonnes)</text>
<text x="297.5" y="249.5" text-anchor="middle" font-size="11.2" fill="#000" stroke="#000">Year</text>
<text transform="translate(8.0,118.6) rotate(-90)" text-anchor="middle" font-size="11.35" fill="#000" stroke="#000">Removals/production (millions)</text>
<text x="574.5" y="27.5" font-size="11.3" fill="#000" stroke="#000">Source</text>
<line x1="576.8" x2="600" y1="45.0" y2="45.0" stroke="#707070" stroke-width="1.8" stroke-dasharray="4.4 4.4"/>
<line x1="576.8" x2="600" y1="66.0" y2="66.0" stroke="#707070" stroke-width="1.8"/>
<text transform="translate(608.3,48.4) scale(1,1.1)" font-size="9.65" fill="#000" stroke="#000">Current FAOSTAT</text>
<text transform="translate(608.3,69.5) scale(1,1.1)" font-size="9.65" fill="#000" stroke="#000">Estimated</text>
<text x="574.5" y="108.9" font-size="11.3" fill="#000" stroke="#000">Continent</text>
<line x1="576.8" x2="600" y1="126.0" y2="126.0" stroke="#4a7bc2" stroke-width="1.8"/>
<circle cx="588.40" cy="126.00" r="2.5" fill="#3868b6" fill-opacity="0.6"/>
<text transform="translate(608.3,129.10) scale(1,1.1)" font-size="9.65" fill="#000" stroke="#000">Africa</text>
<line x1="576.8" x2="600" y1="147.0" y2="147.0" stroke="#ec7a4c" stroke-width="1.8"/>
<path d="M588.40,143.40L591.65,149.20L585.15,149.20Z" fill="#e2631f" fill-opacity="0.6"/>
<text transform="translate(608.3,150.10) scale(1,1.1)" font-size="9.65" fill="#000" stroke="#000">Americas</text>
<line x1="576.8" x2="600" y1="168.0" y2="168.0" stroke="#2ea864" stroke-width="1.8"/>
<rect x="585.80" y="165.40" width="5.20" height="5.20" fill="#1a9850" fill-opacity="0.6"/>
<text transform="translate(608.3,171.10) scale(1,1.1)" font-size="9.65" fill="#000" stroke="#000">Asia</text>
<line x1="576.8" x2="600" y1="189.0" y2="189.0" stroke="#e8438f" stroke-width="1.8"/>
<path d="M584.50,189.00H592.30M588.40,185.10V192.90" stroke="#e7298a" stroke-opacity="0.78" stroke-width="1.1" fill="none"/>
<text transform="translate(608.3,192.10) scale(1,1.1)" font-size="9.65" fill="#000" stroke="#000">Europe</text>
<line x1="576.8" x2="600" y1="210.0" y2="210.0" stroke="#b08a45" stroke-width="1.8"/>
<path d="M585.85,207.45h5.10v5.10h-5.10ZM585.85,210.00H590.95M588.40,207.45V212.55" stroke="#a6761d" stroke-opacity="0.8999999999999999" stroke-width="1.0" fill="none"/>
<text transform="translate(608.3,213.10) scale(1,1.1)" font-size="9.65" fill="#000" stroke="#000">Oceania</text>
</svg>
</body></html>
